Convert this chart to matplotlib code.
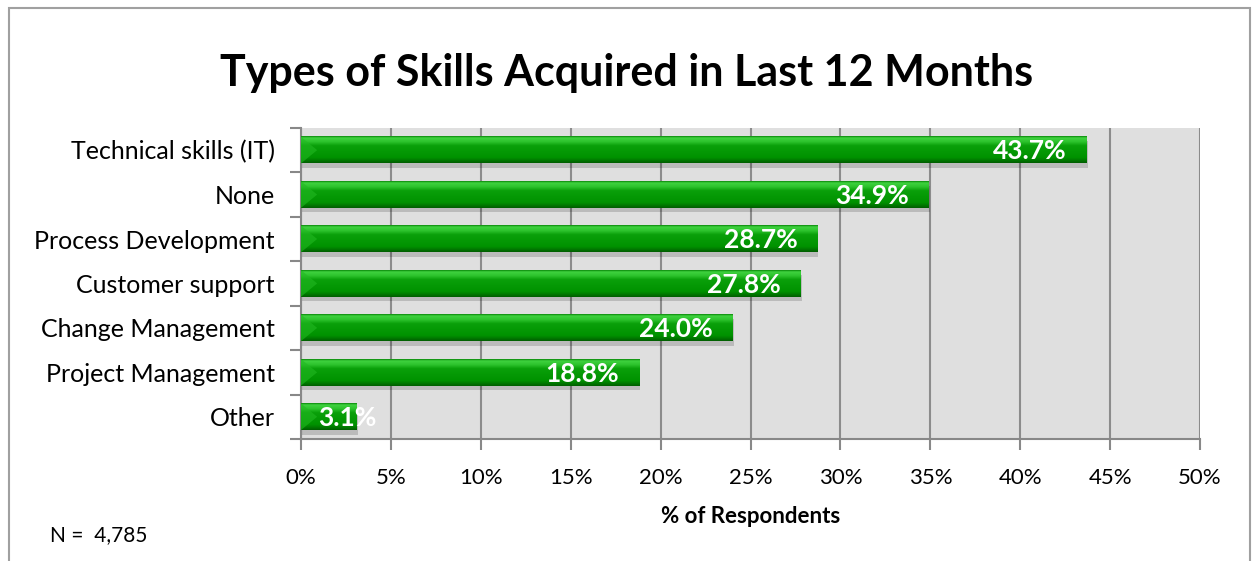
import numpy as np
import matplotlib
matplotlib.use("Agg")
import matplotlib.pyplot as plt
from matplotlib.colors import to_rgb
from matplotlib.patches import Rectangle, Polygon

categories = ["Technical skills (IT)", "None", "Process Development", "Customer support",
              "Change Management", "Project Management", "Other"]
values = [43.7, 34.9, 28.7, 27.8, 24.0, 18.8, 3.1]
xticks = [0, 5, 10, 15, 20, 25, 30, 35, 40, 45, 50]

plt.rcParams['font.family'] = ['Lato', 'DejaVu Sans']

fig = plt.figure(figsize=(12.54, 5.61), dpi=100)
ax = fig.add_axes([0.240, 0.2175, 0.717, 0.5545])
ax.set_facecolor('#dfdfdf')

# outer chart frame
fig.patches.append(Rectangle((9 / 1254, -0.2), (1250 - 9) / 1254, 1.2 - 8 / 561,
                             transform=fig.transFigure, fill=False,
                             edgecolor='#a0a0a0', linewidth=1.5))

# vertical gradient for the bars, top to bottom
stops = [(0.0, '#0b8a0b'), (0.06, '#3fd23f'), (0.2, '#2ec42e'), (0.35, '#0aa00a'),
         (0.8, '#009200'), (0.9, '#007a00'), (1.0, '#005e00')]
pos = np.linspace(0, 1, 60)
grad = np.zeros((60, 1, 3))
for c in range(3):
    grad[:, 0, c] = np.interp(pos, [s[0] for s in stops], [to_rgb(s[1])[c] for s in stops])

h = 0.6
for i, v in enumerate(values):
    # drop shadow
    ax.add_patch(Rectangle((0.08, i - h / 2 + 0.1), v, h, facecolor='black', alpha=0.16,
                           edgecolor='none', zorder=2))
    ax.imshow(grad, extent=[0, v, i + h / 2, i - h / 2], origin='upper', aspect='auto',
              interpolation='bilinear', zorder=3)
    # lighter bevel on the left end
    ax.add_patch(Polygon([(0, i - h / 2), (0.9, i), (0, i + h / 2)], closed=True,
                         facecolor='#22b822', edgecolor='none', alpha=0.6, zorder=4))
    lx = max(v - 1.1, 4.2)
    ax.text(lx, i + 0.03, f"{v:.1f}%", ha='right', va='center', color='white',
            fontsize=19, fontweight='bold', zorder=5)

ax.set_xlim(0, 50)
ax.set_ylim(len(categories) - 0.5, -0.5)
ax.set_xticks(xticks)
ax.set_xticklabels([f"{t}%" for t in xticks], fontsize=16)
ax.set_yticks(range(len(categories)))
ax.set_yticklabels(categories, fontsize=18)
ax.set_yticks(np.arange(-0.5, len(categories)), minor=True)
ax.tick_params(axis='y', which='major', length=0, pad=19)
ax.tick_params(axis='y', which='minor', length=8, color='#888888', width=1.5)
ax.tick_params(axis='x', length=8, color='#888888', width=1.5, pad=13)
ax.grid(axis='x', color='#8c8c8c', linewidth=1.5, zorder=1)
ax.set_axisbelow(True)
for side in ['top', 'right']:
    ax.spines[side].set_visible(False)
for side in ['left', 'bottom']:
    ax.spines[side].set_color('#888888')
    ax.spines[side].set_linewidth(1.5)

ax.set_xlabel('% of Respondents', fontsize=16, fontweight='bold', labelpad=13)
fig.text(0.5, 0.87, 'Types of Skills Acquired in Last 12 Months', ha='center', va='center',
         fontsize=31, fontweight='bold')
fig.text(50 / 1254, 1 - 535 / 561, 'N =  4,785', ha='left', va='center', fontsize=15)

fig.savefig('out.png', dpi=100)
